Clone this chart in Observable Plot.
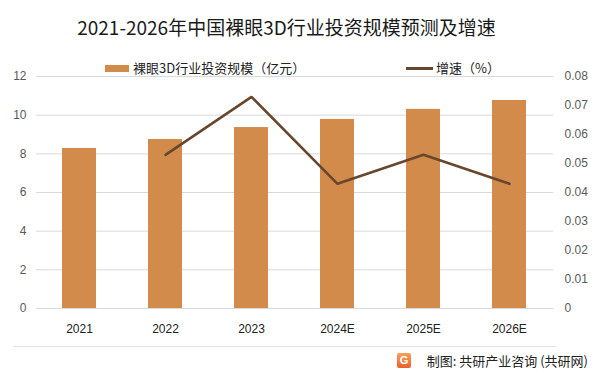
<!DOCTYPE html>
<html>
<head>
<meta charset="utf-8">
<script src="https://cdn.jsdelivr.net/npm/d3@7"></script>
<script src="https://cdn.jsdelivr.net/npm/@observablehq/plot@0.6"></script>
<style>
  html, body { margin: 0; padding: 0; background: #fff; }
  #wrap { position: relative; width: 601px; height: 373px; overflow: hidden; font-family: "Noto Sans CJK SC", "Noto Sans", sans-serif; }
  #title { position: absolute; left: 0; width: 573px; top: 13px; text-align: center; font-size: 19px; color: #1a1a1a; white-space: nowrap; }
  .leg { position: absolute; top: 58px; font-size: 13px; color: #222; white-space: nowrap; line-height: 20px; }
  #chart { position: absolute; left: 0; top: 70px; }
  #sep { position: absolute; left: 13px; width: 543px; top: 346px; height: 1px; background: #e3e3e3; }
  #caption { position: absolute; right: 13px; top: 351px; font-size: 13px; color: #222; white-space: nowrap; line-height: 20px; }
  #logo { position: absolute; left: 397px; top: 353px; width: 14px; height: 15px; border-radius: 2px; background: linear-gradient(#f6a15a, #e8612c); color: #fff; font: bold 11px "Liberation Sans", sans-serif; text-align: center; line-height: 15px; }
</style>
</head>
<body>
<div id="wrap">
  <div id="title">2021-2026年中国裸眼3D行业投资规模预测及增速</div>
  <div class="leg" style="left:105px"><span style="display:inline-block;width:24px;height:7px;background:#d38b4c;vertical-align:middle;margin-right:4px;position:relative;top:-1px"></span>裸眼3D行业投资规模（亿元）</div>
  <div class="leg" style="left:406px"><span style="display:inline-block;width:27px;height:3px;background:#67472d;vertical-align:middle;margin-right:3px;position:relative;top:-1px"></span>增速（%）</div>
  <div id="chart"></div>
  <div id="sep"></div>
  <div id="logo">G</div>
  <div id="caption">制图: 共研产业咨询 (共研网)</div>
</div>
<script>
const years = ["2021", "2022", "2023", "2024E", "2025E", "2026E"];
const investment = [8.28, 8.74, 9.36, 9.78, 10.3, 10.76];
const growth = [null, 0.053, 0.073, 0.043, 0.053, 0.043];
const leftTicks = [0, 2, 4, 6, 8, 10, 12];
const rightTicks = [0, 0.01, 0.02, 0.03, 0.04, 0.05, 0.06, 0.07, 0.08];
const rightLabels = ["0", "0.01", "0.02", "0.03", "0.04", "0.05", "0.06", "0.07", "0.08"];

const k = 12 / 0.08; // map right axis onto left scale
const bars = years.map((y, i) => ({year: y, value: investment[i]}));
const line = years.map((y, i) => ({year: y, g: growth[i]})).filter(d => d.g != null).map(d => ({year: d.year, v: d.g * k}));

const chart = Plot.plot({
  width: 601,
  height: 275,
  marginTop: 6,
  marginBottom: 37,
  marginLeft: 36,
  marginRight: 48,
  style: {fontFamily: "'Liberation Sans', 'Noto Sans', sans-serif", fontSize: "12px", background: "transparent"},
  x: {domain: years, paddingInner: 0.6, paddingOuter: 0.3, label: null},
  y: {domain: [0, 12], label: null},
  marks: [
    Plot.ruleY(leftTicks, {stroke: "#d9d9d9", strokeWidth: 1}),
    Plot.barY(bars, {x: "year", y: "value", fill: "#d38b4c"}),
    Plot.line(line, {x: "year", y: "v", stroke: "#67472d", strokeWidth: 2.6, strokeLinejoin: "miter"}),
    Plot.axisY(leftTicks, {anchor: "left", tickSize: 0, tickPadding: 10, label: null, fill: "#595959", fontSize: 12}),
    Plot.axisY(rightTicks.map(v => v * k), {anchor: "right", tickSize: 0, tickPadding: 11, label: null, fill: "#595959", fontSize: 12, tickFormat: (d, i) => rightLabels[i]}),
    Plot.axisX({tickSize: 0, tickPadding: 16, label: null, fill: "#222", fontSize: 12})
  ]
});
document.getElementById("chart").appendChild(chart);
</script>
</body>
</html>
